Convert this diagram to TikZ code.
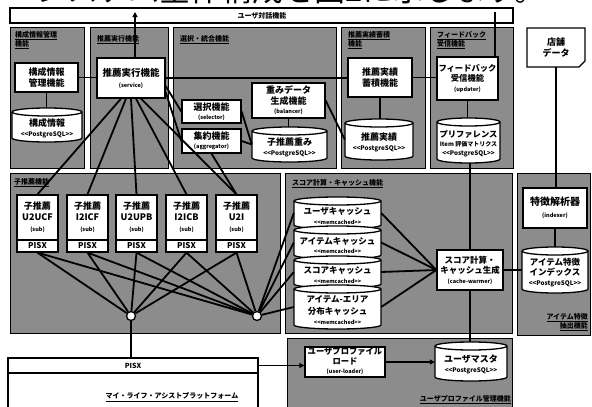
\documentclass[tikz,border=0pt]{standalone}
\usepackage{fontspec}
\setmainfont{Noto Sans CJK JP}
\usetikzlibrary{arrows.meta}
\newcommand\PG{{<}{<}PostgreSQL{>}{>}}
\newcommand\MC{{<}{<}memcached{>}{>}}
\newcommand\fs[1]{\fontsize{#1}{#1}\selectfont}
\newcommand\smtxt[1]{{\fontsize{5.5}{7}\selectfont #1}}
\newcommand\pgtxt[1]{{\fontsize{6.3}{8}\selectfont #1}}
\newcommand\ulx[1]{\underline{#1}}
\tikzset{
  panel/.style={fill=black!45, draw=black, line width=0.8pt},
  bx/.style={draw, fill=white, line width=1.3pt, inner sep=0pt, align=center,
    font=\bfseries\fontsize{9}{11}\selectfont},
  bxt/.style={inner sep=0pt, align=center, font=\bfseries\fontsize{9}{11}\selectfont},
  dbline/.style={draw, fill=white, line width=1.3pt},
  conn/.style={line width=1.8pt},
  ptitle/.style={inner sep=0pt, anchor=north west, align=left, font=\bfseries\fontsize{7}{9}\selectfont},
  hub/.style={circle, draw, fill=white, line width=1.3pt, minimum size=9pt, inner sep=0pt},
  tip/.style={-{Triangle[length=5pt,width=5pt]}}
}
% [opt]{name}{x1}{y1}{x2}{y2}{text}
\newcommand\bx[7][]{\node[bx,minimum width={(#5)-(#3)},minimum height={(#6)-(#4)},#1] (#2) at ({((#3)+(#5))/2},{((#4)+(#6))/2}) {#7};}
\newcommand\db[7][]{%
  \draw[dbline] (#3,{(#4)+4}) -- (#3,{(#6)-4}) arc[start angle=180,end angle=360,x radius={((#5)-(#3))/2*1pt},y radius=4pt] -- (#5,{(#4)+4}) arc[start angle=0,end angle=180,x radius={((#5)-(#3))/2*1pt},y radius=4pt] -- cycle;
  \draw[line width=1.3pt] (#3,{(#4)+4}) arc[start angle=180,end angle=360,x radius={((#5)-(#3))/2*1pt},y radius=4pt];
  \node[bxt,minimum width={(#5)-(#3)},minimum height={(#6)-(#4)}] (#2) at ({((#3)+(#5))/2},{((#4)+(#6))/2}) {};
  \node[bxt,#1] (#2-t) at ({((#3)+(#5))/2},{((#4)+(#6))/2+3}) {#7};
}
\begin{document}
\begin{tikzpicture}[x=1pt,y=-1pt]
\useasboundingbox (0,0) rectangle (592,407);
\clip (0,0) rectangle (592,407);
% cut-off sentence at the very top (only the feet of the glyphs show)
\node[anchor=base west, inner sep=0pt, font=\fs{31}] (toptext) at (36,1.5) {システム全体構成を図2に示します。};

% panels
\path[panel] (10,27) rectangle (84,168);
\path[panel] (90,27) rectangle (168,168);
\path[panel] (173,27) rectangle (336,168);
\path[panel] (341,27) rectangle (425,168);
\path[panel] (430,27) rectangle (513,168);
\path[panel] (10,173) rectangle (280,333);
\path[panel] (285,173) rectangle (512,333);
\path[panel] (517,173) rectangle (590,335);
\path[panel] (287,338) rectangle (512,410);

% panel titles
\node[ptitle] (t1) at (15,31) {\ulx{構成情報管理}\\\ulx{機能}};
\node[ptitle] (t2) at (97,35) {\ulx{推薦実行機能}};
\node[ptitle] (t3) at (180,35) {\ulx{選択・統合機能}};
\node[ptitle] (t4) at (348,31) {\ulx{推薦実績蓄積}\\\ulx{機能}};
\node[ptitle] (t5) at (437,31) {\ulx{フィードバック}\\\ulx{受信機能}};
\node[ptitle] (t6) at (14,178) {\ulx{子推薦機能}};
\node[ptitle] (t7) at (292,179) {\ulx{スコア計算・キャッシュ機能}};
\node[ptitle, anchor=south east, align=right] (t8) at (588,331) {\ulx{アイテム特徴}\\\ulx{抽出機能}};
\node[ptitle, anchor=south east, align=right] (t9) at (511,404) {\ulx{ユーザプロファイル管理機能}};

% top bar
\node[draw, fill=white, line width=1.1pt, minimum width=503, minimum height=15, inner sep=0pt] (bar) at (261.5,15.5) {};
\node[inner sep=0pt, font=\bfseries\fs{7}] (bartitle) at (262,16) {ユーザ対話機能};

% row 1
\bx{cfgmgr}{15}{63}{78}{92}{構成情報\\管理機能}
\db[font=\bfseries\fontsize{9}{10}\selectfont]{cfgdb}{12}{108}{82}{142}{構成情報\\\pgtxt{\PG}}
\bx[font=\bfseries\fontsize{9.5}{11}\selectfont]{service}{97}{58}{165}{98}{推薦実行機能\\\smtxt{(service)}}
\bx{selector}{182}{100}{241}{123}{選択機能\\[-2pt]\smtxt{(selector)}}
\bx{aggregator}{182}{129}{241}{153}{集約機能\\[-2pt]\smtxt{(aggregator)}}
\bx[font=\bfseries\fontsize{9}{10.5}\selectfont]{balancer}{252}{83}{325}{118}{重みデータ\\生成機能\\[-1pt]\smtxt{(balancer)}}
\db[font=\bfseries\fontsize{9}{10}\selectfont]{weightdb}{252}{127}{327}{162}{子推薦重み\\\pgtxt{\PG}}
\bx{achieve}{348}{58}{412}{97}{推薦実績\\蓄積機能}
\db[font=\bfseries\fontsize{9}{10}\selectfont]{achdb}{345}{119}{413}{160}{推薦実績\\\pgtxt{\PG}}
\bx[font=\bfseries\fontsize{8.3}{10.5}\selectfont]{feedback}{437}{57}{498}{100}{フィードバック\\受信機能\\[-1pt]\smtxt{(updater)}}
\db[font=\bfseries\fontsize{8.3}{9}\selectfont]{pref}{437}{118}{500}{163}{プリファレンス\\{\fontsize{6}{7}\selectfont Item 評価マトリクス}\\\pgtxt{\PG}}

% store data (document shape)
\draw[line width=1.3pt, fill=white] (527,28) -- (585,28) -- (585,61) -- (579,67) -- (527,67) -- cycle;
\node[bxt, minimum width=58, minimum height=39] (store) at (556,47.5) {店舗\\データ};

% row 2 : sub recommenders
\bx{s1}{17}{195}{58}{240}{子推薦\\U2UCF\\\smtxt{(sub)}}
\bx{s2}{67}{195}{108}{240}{子推薦\\I2ICF\\\smtxt{(sub)}}
\bx{s3}{116}{195}{157}{240}{子推薦\\U2UPB\\\smtxt{(sub)}}
\bx{s4}{166}{195}{207}{240}{子推薦\\I2ICB\\\smtxt{(sub)}}
\bx{s5}{216}{195}{257}{240}{子推薦\\U2I\\\smtxt{(sub)}}
\bx[font=\bfseries\fs{8}]{p1}{17}{240}{58}{252}{PISX}
\bx[font=\bfseries\fs{8}]{p2}{67}{240}{108}{252}{PISX}
\bx[font=\bfseries\fs{8}]{p3}{116}{240}{157}{252}{PISX}
\bx[font=\bfseries\fs{8}]{p4}{166}{240}{207}{252}{PISX}
\bx[font=\bfseries\fs{8}]{p5}{216}{240}{257}{252}{PISX}
\node[hub] (c1) at (131,316) {};
\node[hub] (c2) at (257,316) {};

% caches
\db[font=\bfseries\fontsize{8.5}{9.5}\selectfont]{uc}{294}{197}{381}{229}{ユーザキャッシュ\\\smtxt{\MC}}
\db[font=\bfseries\fontsize{8.5}{9.5}\selectfont]{ic}{294}{226}{381}{259}{アイテムキャッシュ\\\smtxt{\MC}}
\db[font=\bfseries\fontsize{8.5}{9.5}\selectfont]{sc}{294}{256}{381}{288}{スコアキャッシュ\\\smtxt{\MC}}
\db[font=\bfseries\fontsize{8.5}{12}\selectfont]{ac}{294}{285}{381}{329}{アイテム-エリア\\分布キャッシュ\\[-2pt]\smtxt{\MC}}
\bx[font=\bfseries\fontsize{8.5}{10.5}\selectfont]{warmer}{437}{250}{503}{290}{スコア計算・\\キャッシュ生成\\[-1pt]\smtxt{(cache-warmer)}}

% right column
\bx[font=\bfseries\fontsize{10}{12}\selectfont]{indexer}{523}{188}{587}{228}{特徴解析器\\\smtxt{(indexer)}}
\db[font=\bfseries\fontsize{8.5}{10}\selectfont]{itemidx}{522}{247}{588}{293}{アイテム特徴\\インデックス\\\pgtxt{\PG}}

% row 3
\bx[font=\bfseries\fontsize{8.3}{10}\selectfont]{userloader}{305}{347}{385}{377}{ユーザプロファイル\\ロード\\[-1pt]\smtxt{\underline{(user-loader)}}}
\db[font=\bfseries\fontsize{9}{10}\selectfont]{usermaster}{435}{342}{507}{381}{ユーザマスタ\\\pgtxt{\PG}}

% platform
\draw[line width=1.3pt, fill=white] (8,358) rectangle (258,414);
\bx[font=\bfseries\fs{7}, line width=1.3pt]{pisxbar}{8}{358}{258}{373}{PISX}
\node[inner sep=0pt, font=\bfseries\fs{7}] (platform) at (172,397) {\underline{マイ・ライフ・アシストプラットフォーム}};

% connectors
\coordinate (barA) at (135,12);
\coordinate (barB) at (495,12);
\draw[conn] (cfgmgr.east) -- (cfgmgr.east -| service.west);
\draw[conn] (cfgmgr.south) -- (cfgmgr.south |- cfgdb.north);
\draw[conn, tip] (service.north -| barA) -- (barA);
\draw[conn] (service.east) -- (service.east -| achieve.west);
\draw[conn] (achieve.east) -- (achieve.east -| feedback.west);
\draw[conn] (feedback.north -| barB) -- (barB);
\draw[conn] (feedback.south) -- (feedback.south |- pref.north);
\draw[conn] (achieve.south) -- (achieve.south |- achdb.north);
\draw[conn] (balancer.south) -- (balancer.south |- weightdb.north);
\draw[conn] (balancer.east) -- (achdb.west);
\draw[conn] ([yshift=-8pt]service.east) -- (selector.west);
\draw[conn] ([yshift=-14pt]service.east) -- (aggregator.west);
\draw[conn] (selector.east) -- (weightdb.west);
\draw[conn] (aggregator.east) -- (weightdb.west);
\foreach \s/\d in {s1/-10,s2/-5,s3/0,s4/5,s5/10}
  \draw[conn] ([xshift=\d pt]service.south) -- (\s.north);
\draw[conn] (aggregator.south) -- (s5.north);
\foreach \s in {p1,p2,p3,p4,p5} {
  \draw[conn] (\s.south) -- (c1);
  \draw[conn] (\s.south) -- (c2);
}
\foreach \c in {uc,ic,sc,ac} {
  \draw[conn] (c2) -- (\c.west);
  \draw[conn] (warmer.west) -- (\c.east);
}
\draw[conn] (c1) -- (c1 |- pisxbar.north);
\draw[conn] (warmer.north) -- (warmer.north |- pref.south);
\draw[conn] (warmer.south) -- (warmer.south |- usermaster.north);
\draw[conn] (warmer.east) -- (warmer.east -| itemidx.west);
\draw[conn, tip] (pisxbar.east) -- (pisxbar.east -| userloader.west);
\draw[conn, tip] (userloader.east) -- (userloader.east -| usermaster.west);
\draw[conn] (store.south) -- (store.south |- indexer.north);
\draw[conn] (indexer.south) -- (indexer.south |- itemidx.north);
\end{tikzpicture}
\end{document}
